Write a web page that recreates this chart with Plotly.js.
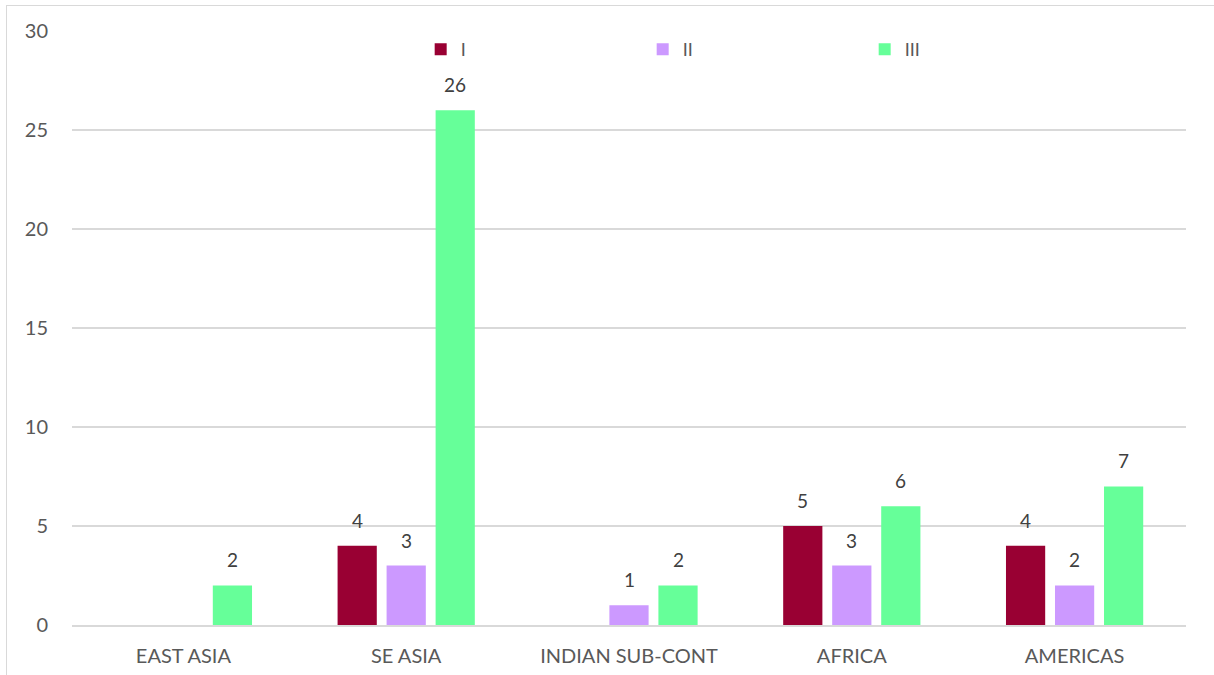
<!DOCTYPE html>
<html>
<head>
<meta charset="utf-8">
<script src="https://cdn.plot.ly/plotly-3.0.1.min.js"></script>
<style>
html,body{margin:0;padding:0;background:#fff;}
#wrap{position:relative;width:1214px;height:675px;}
#chart{width:1214px;height:675px;}
#frame{position:absolute;left:6px;top:5px;width:1220px;height:700px;border:1.5px solid #d9d9d9;pointer-events:none;}
</style>
</head>
<body>
<div id="wrap"><div id="chart"></div><div id="frame"></div></div>
<script>
var categories = ["EAST ASIA", "SE ASIA", "INDIAN SUB-CONT", "AFRICA", "AMERICAS"];
var seriesNames = ["I", "II", "III"];
var valuesI = [null, 4, null, 5, 4];
var valuesII = [null, 3, 1, 3, 2];
var valuesIII = [2, 26, 2, 6, 7];
var colors = ["#990033", "#CC99FF", "#66FF99"];
var yTicks = [0, 5, 10, 15, 20, 25, 30];

var FONT = "Lato, 'Open Sans', sans-serif";
var BARGAP = 0.34;
var allValues = [valuesI, valuesII, valuesIII];
var traces = allValues.map(function (vals, i) {
  return {
    type: "bar",
    name: seriesNames[i],
    x: categories,
    y: vals,
    marker: {color: colors[i]},
    hoverinfo: "x+y+name"
  };
});

// data labels placed through the axis scales
var slot = (1 - BARGAP) / allValues.length;
var annotations = [];
allValues.forEach(function (vals, k) {
  vals.forEach(function (v, i) {
    if (v === null) return;
    annotations.push({
      xref: "x", yref: "y",
      x: i + (k - (allValues.length - 1) / 2) * slot,
      y: v,
      text: String(v),
      showarrow: false,
      yanchor: "bottom",
      yshift: 12,
      font: {family: FONT, size: 19, color: "#404040"}
    });
  });
});

var layout = {
  width: 1214,
  height: 675,
  margin: {l: 72, r: 28, t: 31, b: 50},
  paper_bgcolor: "#ffffff",
  plot_bgcolor: "#ffffff",
  barmode: "group",
  bargap: BARGAP,
  bargroupgap: 0.2,
  font: {family: FONT, color: "#595959", size: 18},
  showlegend: true,
  legend: {
    orientation: "h",
    x: 0.313, xanchor: "left",
    y: 1.0, yanchor: "top",
    entrywidth: 177,
    entrywidthmode: "pixels",
    font: {family: FONT, size: 18, color: "#595959"},
    bgcolor: "rgba(0,0,0,0)",
    itemclick: false
  },
  annotations: annotations,
  xaxis: {
    type: "category",
    range: [-0.5, categories.length - 0.5],
    tickfont: {family: FONT, size: 20, color: "#595959"},
    showgrid: false,
    showline: true,
    linecolor: "#d9d9d9",
    linewidth: 1.5,
    ticks: "outside",
    ticklen: 12,
    tickcolor: "rgba(0,0,0,0)",
    zeroline: false
  },
  yaxis: {
    range: [0, 30],
    tickvals: yTicks,
    ticktext: yTicks.map(String),
    tickfont: {family: FONT, size: 20, color: "#595959"},
    showgrid: true,
    gridcolor: "#d9d9d9",
    gridwidth: 1.5,
    zeroline: false,
    showline: false,
    ticks: "outside",
    ticklen: 19,
    tickcolor: "rgba(0,0,0,0)"
  }
};

Plotly.newPlot("chart", traces, layout, {displayModeBar: false, staticPlot: true});
</script>
</body>
</html>
